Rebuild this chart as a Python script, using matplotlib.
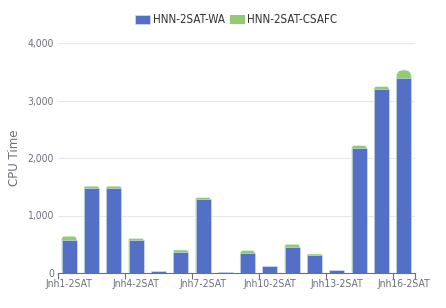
import numpy as np
import matplotlib
matplotlib.use('Agg')
from matplotlib import pyplot as plt
from matplotlib.patches import FancyBboxPatch

# CPU time per instance
instances = [f'Jnh{i}-2SAT' for i in range(1, 17)]
wa_time = [580, 1480, 1480, 580, 30, 370, 1280, 10, 340, 130, 460, 320, 50, 2170, 3200, 3390]
csafc_extra = [60, 30, 30, 20, 0, 30, 30, 0, 50, 0, 40, 10, 0, 45, 40, 140]

blue = '#5470c6'
green = '#91cc75'
grey = '#6e7079'

plt.rcParams['font.family'] = ['DejaVu Sans']
plt.rcParams['font.stretch'] = 'condensed'

fig = plt.figure(figsize=(4.46, 3.08), dpi=100)
ax = fig.add_axes([58/446, 1 - 273/308, (415 - 58)/446, (273 - 43)/308])

x = np.arange(len(instances))
w = 0.67
ax.bar(x, wa_time, width=w, color=blue, edgecolor='#dfe5f7', linewidth=0.4,
       label='HNN-2SAT-WA', zorder=4)

# green on top with rounded top corners: draw full height, blue covers the lower part
px_x = 357 / len(instances)
px_y = 230 / 4000
aspect = px_x / px_y
for xi, base, extra in zip(x, wa_time, csafc_extra):
    if extra <= 0:
        continue
    r = min(7, extra * px_y) / px_x
    ax.add_patch(FancyBboxPatch((xi - w/2, 0), w, base + extra,
                                boxstyle=f'round,pad=0,rounding_size={r}',
                                mutation_aspect=aspect, facecolor=green,
                                edgecolor='#e4f2dc', linewidth=0.4, zorder=3))
ax.bar([0], [0], color=green, label='HNN-2SAT-CSAFC')

ax.set_xlim(-0.5, len(instances) - 0.5)
ax.set_ylim(0, 4000)
ax.set_yticks([0, 1000, 2000, 3000, 4000])
ax.set_yticklabels(['0', '1,000', '2,000', '3,000', '4,000'], color=grey, fontsize=7.5)
ax.grid(axis='y', color='#e6e8ef', linewidth=0.8, zorder=0)

ax.set_xticks(x[::3])
ax.set_xticklabels(instances[::3], color=grey, fontsize=7.5)
ax.tick_params(axis='x', which='major', length=0, pad=4)
ax.set_xticks(np.append(np.arange(-0.5, len(instances), 3), len(instances) - 0.5), minor=True)
ax.tick_params(axis='x', which='minor', length=4, color=grey, width=0.8)
ax.tick_params(axis='y', length=0, pad=3)

for side in ['top', 'right', 'left']:
    ax.spines[side].set_visible(False)
ax.spines['bottom'].set_color(grey)
ax.spines['bottom'].set_linewidth(0.8)
ax.spines['bottom'].set_zorder(5)

ax.set_ylabel('CPU Time', color=grey, fontsize=8.5, fontstretch='normal')
ax.yaxis.set_label_coords(-0.104, 0.5)

fig.legend(loc='upper center', bbox_to_anchor=(0.53, 0.99), ncol=2, frameon=False,
           fontsize=8.3, handlelength=1.3, handleheight=0.9, handletextpad=0.25,
           columnspacing=0.4, labelcolor='#333333')

fig.savefig('out.png', dpi=100)
